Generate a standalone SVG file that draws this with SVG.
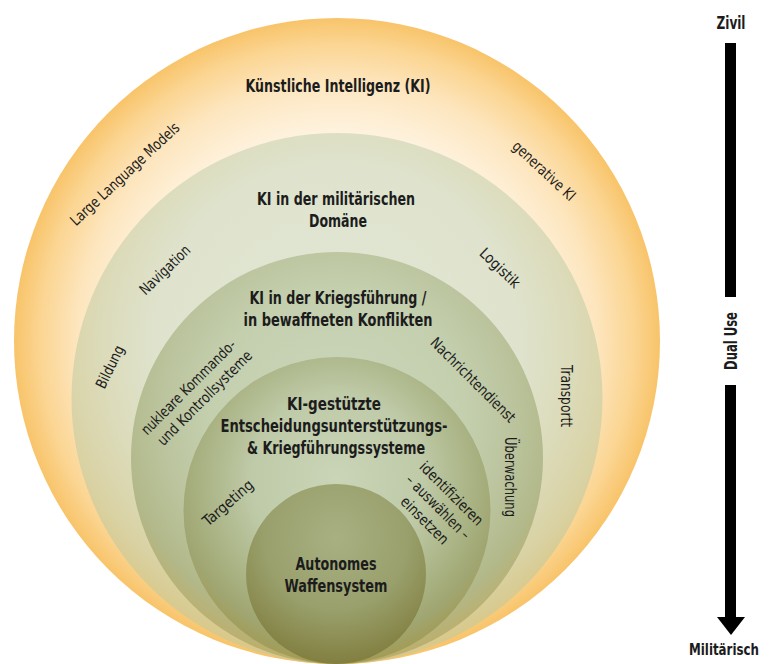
<svg xmlns="http://www.w3.org/2000/svg" width="770" height="664" viewBox="0 0 770 664">
<style>
.t{font-family:"Liberation Sans Narrow","DejaVu Sans Condensed","Liberation Sans",sans-serif;font-weight:700;font-size:18px;fill:#1c1c1c;text-anchor:middle}
.l{font-family:"Liberation Sans Narrow","DejaVu Sans Condensed","Liberation Sans",sans-serif;font-weight:400;font-size:15px;fill:#1c1c1c;text-anchor:middle}
</style>
<defs>
<radialGradient id="g0" gradientUnits="userSpaceOnUse" cx="337" cy="341" r="323">
<stop offset="0" stop-color="#fff8ee"/><stop offset="0.64" stop-color="#fef3e0"/><stop offset="0.8" stop-color="#fde6bf"/><stop offset="0.92" stop-color="#fbd592"/><stop offset="1" stop-color="#f8c46a"/>
</radialGradient>
<radialGradient id="g1" cx="0.5" cy="0.4" r="0.62">
<stop offset="0" stop-color="#e1e7d6"/><stop offset="0.55" stop-color="#dfe3cd"/><stop offset="0.7" stop-color="#dcdcbc"/><stop offset="0.85" stop-color="#d9d2a4"/><stop offset="1" stop-color="#d8c47e"/>
</radialGradient>
<radialGradient id="g2" cx="0.5" cy="0.4" r="0.62">
<stop offset="0" stop-color="#cbd7bd"/><stop offset="0.5" stop-color="#c4cfae"/><stop offset="0.7" stop-color="#bac39c"/><stop offset="0.85" stop-color="#b2b889"/><stop offset="1" stop-color="#bfab62"/>
</radialGradient>
<radialGradient id="g3" cx="0.5" cy="0.4" r="0.62">
<stop offset="0" stop-color="#cad5b8"/><stop offset="0.45" stop-color="#bfcaa8"/><stop offset="0.7" stop-color="#aab485"/><stop offset="0.85" stop-color="#a0a672"/><stop offset="1" stop-color="#a3984c"/>
</radialGradient>
<radialGradient id="g4" cx="0.5" cy="0.3" r="0.8">
<stop offset="0" stop-color="#a8b083"/><stop offset="0.5" stop-color="#99a06c"/><stop offset="1" stop-color="#7a7431"/>
</radialGradient>
</defs>

<g id="circle-ki">
<circle cx="337" cy="341" r="323" fill="url(#g0)"/>
<text class="t" x="338" y="92" textLength="185" lengthAdjust="spacingAndGlyphs">Künstliche Intelligenz (KI)</text>
<text class="l" transform="translate(125,174) rotate(-43)" y="5" textLength="143" lengthAdjust="spacingAndGlyphs">Large Language Models</text>
<text class="l" transform="translate(544,171) rotate(43)" y="5" textLength="80" lengthAdjust="spacingAndGlyphs">generative KI</text>
</g>

<g id="circle-militaer">
<circle cx="337" cy="398.5" r="265.5" fill="url(#g1)"/>
<text class="t" x="336" y="205" textLength="158" lengthAdjust="spacingAndGlyphs">KI in der militärischen</text>
<text class="t" x="338" y="227" textLength="58" lengthAdjust="spacingAndGlyphs">Domäne</text>
<text class="l" transform="translate(165,270) rotate(-44)" y="5" textLength="64" lengthAdjust="spacingAndGlyphs">Navigation</text>
<text class="l" transform="translate(500,268) rotate(44)" y="5" textLength="50" lengthAdjust="spacingAndGlyphs">Logistik</text>
<text class="l" transform="translate(110,367) rotate(-64)" y="5" textLength="46" lengthAdjust="spacingAndGlyphs">Bildung</text>
<text class="l" transform="translate(566,396) rotate(90)" y="5" textLength="62" lengthAdjust="spacingAndGlyphs">Transportt</text>
</g>

<g id="circle-krieg">
<circle cx="337" cy="458" r="206" fill="url(#g2)"/>
<text class="t" x="338" y="304" textLength="177" lengthAdjust="spacingAndGlyphs">KI in der Kriegsführung /</text>
<text class="t" x="338" y="326" textLength="189" lengthAdjust="spacingAndGlyphs">in bewaffneten Konflikten</text>
<g transform="translate(197,393) rotate(-45)">
<text class="l" x="-2" y="-5" textLength="127" lengthAdjust="spacingAndGlyphs">nukleare Kommando-</text>
<text class="l" x="2" y="14" textLength="127" lengthAdjust="spacingAndGlyphs">und Kontrollsysteme</text>
</g>
<text class="l" transform="translate(473,380) rotate(45)" y="5" textLength="113" lengthAdjust="spacingAndGlyphs">Nachrichtendienst</text>
<text class="l" transform="translate(510,477) rotate(90)" y="5" textLength="80" lengthAdjust="spacingAndGlyphs">Überwachung</text>
</g>

<g id="circle-systeme">
<circle cx="337" cy="510.5" r="153.5" fill="url(#g3)"/>
<text class="t" x="334" y="410" textLength="94" lengthAdjust="spacingAndGlyphs">KI-gestützte</text>
<text class="t" x="334" y="432" textLength="227" lengthAdjust="spacingAndGlyphs">Entscheidungsunterstützungs-</text>
<text class="t" x="336" y="454" textLength="178" lengthAdjust="spacingAndGlyphs">&amp; Kriegführungssysteme</text>
<text class="l" transform="translate(228,503) rotate(-41)" y="5" textLength="62" lengthAdjust="spacingAndGlyphs">Targeting</text>
<g transform="translate(438,507) rotate(45)">
<text class="l" y="-14" textLength="83" lengthAdjust="spacingAndGlyphs">identifizieren</text>
<text class="l" y="5" textLength="84" lengthAdjust="spacingAndGlyphs">– auswählen –</text>
<text class="l" y="24" textLength="61" lengthAdjust="spacingAndGlyphs">einsetzen</text>
</g>
</g>

<g id="circle-autonom">
<circle cx="336" cy="574" r="90" fill="url(#g4)"/>
<text class="t" x="336" y="570" textLength="81" lengthAdjust="spacingAndGlyphs">Autonomes</text>
<text class="t" x="336" y="592" textLength="103" lengthAdjust="spacingAndGlyphs">Waffensystem</text>
</g>

<g id="scale-arrow">
<text class="t" x="731" y="29" textLength="29" lengthAdjust="spacingAndGlyphs">Zivil</text>
<rect x="725" y="43" width="11" height="254" fill="#000"/>
<text class="t" transform="translate(737,341) rotate(-90)" textLength="58" lengthAdjust="spacingAndGlyphs">Dual Use</text>
<rect x="725" y="385" width="11" height="234" fill="#000"/>
<polygon points="717,617 745,617 731,635" fill="#000"/>
<text class="t" x="724" y="655" style="font-size:15px" textLength="70" lengthAdjust="spacingAndGlyphs">Militärisch</text>
</g>
</svg>
